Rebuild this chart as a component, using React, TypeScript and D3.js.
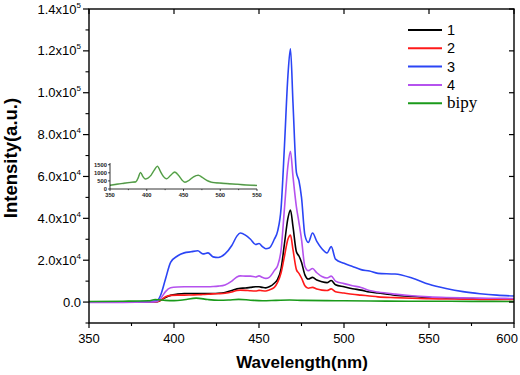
import React from "react";
import * as d3 from "d3";

const wavelengths = [350, 370, 385, 390, 392, 395, 398, 402, 406, 410, 414, 417, 420, 423, 426, 430, 434, 437, 439, 442, 445, 448, 450, 452, 454, 456, 459, 461, 463, 465, 467, 468.5, 470, 472, 473.5, 475, 477, 479, 481.5, 484, 487, 490, 492.5, 495, 500, 505, 510, 515, 520, 530, 540, 550, 560, 570, 580, 590, 600];

const series1 = [0, 0, 0, 200, 800, 2200, 3200, 3800, 4100, 4100, 4100, 4100, 4100, 4100, 4200, 4600, 5500, 6300, 6600, 6700, 7000, 7300, 7300, 7000, 6800, 7300, 9000, 11000, 16000, 28000, 40000, 44000, 36000, 24000, 22000, 19000, 13000, 11000, 11800, 10500, 9700, 9300, 10300, 8300, 7300, 6400, 5700, 4800, 4300, 3300, 2700, 2200, 1900, 1700, 1600, 1500, 1400];
const series2 = [0, 0, 0, 200, 700, 2500, 3200, 3300, 3300, 3400, 3500, 3600, 3700, 3900, 4000, 4200, 4800, 5500, 5700, 5600, 5400, 5300, 5600, 5400, 5300, 5800, 7000, 9500, 14000, 22000, 30000, 32000, 25000, 15500, 13700, 11500, 7800, 6600, 7000, 6200, 5700, 5500, 6300, 4900, 4300, 3700, 3300, 2900, 2500, 2100, 1800, 1600, 1500, 1400, 1300, 1250, 1200];
const series3 = [0, 0, 200, 600, 3000, 11000, 19000, 22000, 23500, 24000, 24500, 23000, 23500, 21600, 21300, 23000, 27000, 31500, 33000, 32000, 30000, 27500, 28000, 26500, 25500, 25800, 30000, 34000, 45000, 75000, 108000, 121000, 95000, 62000, 58000, 50000, 32000, 28500, 33000, 29000, 25500, 23500, 26500, 20500, 18500, 17000, 15500, 14800, 13700, 13400, 11500, 8500, 6500, 5000, 4000, 3300, 2900];
const series4 = [-200, -200, 0, 300, 1500, 5000, 6800, 7200, 7300, 7300, 7300, 7300, 7300, 7400, 7600, 8200, 10000, 12000, 12500, 12400, 12400, 12000, 12500, 11800, 11300, 11800, 15000, 17500, 25000, 45000, 65000, 72000, 60000, 45500, 38000, 30000, 17000, 15000, 16000, 14000, 12200, 11500, 12400, 10000, 8800, 7800, 7000, 5500, 4800, 3800, 3000, 2500, 2200, 2000, 1900, 1800, 1700];

const bipyWl = [350, 370, 385, 389, 395, 400, 406, 413, 420, 426, 432, 438, 445, 452, 460, 468, 476, 490, 500, 525, 550, 575, 600];
const bipyVal = [300, 400, 600, 1200, 800, 700, 1100, 1900, 1200, 900, 1000, 1300, 900, 600, 800, 1000, 800, 700, 600, 450, 400, 350, 300];

const insetWl = [350, 360, 370, 380, 385, 388, 391.5, 395, 398, 405, 410, 414.5, 419, 423, 427, 432, 438, 444, 448, 452, 458, 464, 470, 476, 482, 488, 495, 501, 510, 524, 535, 550];
const insetVal = [230, 300, 360, 420, 440, 650, 1020, 750, 620, 800, 1150, 1400, 1050, 750, 630, 820, 1040, 800, 550, 420, 550, 760, 850, 700, 520, 420, 380, 360, 330, 290, 250, 220];

const seriesNames = ["1", "2", "3", "4", "bipy"];
const seriesColors = ["#000000", "#ff1a1a", "#2b45f5", "#b552ee", "#1a9a1a"];

const xTicks = [350, 400, 450, 500, 550, 600];
const xMinor = [375, 425, 475, 525, 575];
const yTicks = [0, 20000, 40000, 60000, 80000, 100000, 120000, 140000];
const yTickMantissa = ["0.0", "2.0x10", "4.0x10", "6.0x10", "8.0x10", "1.0x10", "1.2x10", "1.4x10"];
const yTickExp = ["", "4", "4", "4", "4", "5", "5", "5"];
const yMinor = [-10000, 10000, 30000, 50000, 70000, 90000, 110000, 130000];

const insetXTicks = [350, 400, 450, 500, 550];
const insetXMinor = [375, 425, 475, 525];
const insetYTicks = [0, 500, 1000, 1500];

const SANS = "'Liberation Sans', Arial, Helvetica, sans-serif";
const SERIF = "'Liberation Serif', 'Times New Roman', serif";

export default function App() {
  const W = 520, H = 375;
  const L = 89, R = 514, T = 9, B = 323;
  const x = d3.scaleLinear().domain([350, 600]).range([L, R]);
  const y = d3.scaleLinear().domain([-10000, 140000]).range([B, T]);

  const line = d3
    .line<[number, number]>()
    .x((d) => x(d[0]))
    .y((d) => y(d[1]))
    .curve(d3.curveMonotoneX);

  const mainSeries = [series1, series2, series3, series4];
  const paths = mainSeries.map((s) => line(wavelengths.map((w, i) => [w, s[i]] as [number, number])) || "");
  const bipyPath = line(bipyWl.map((w, i) => [w, bipyVal[i]] as [number, number])) || "";

  // inset
  const iL = 110, iR = 257, iB = 189, iT = 163;
  const ix = d3.scaleLinear().domain([350, 550]).range([iL, iR]);
  const iy = d3.scaleLinear().domain([0, 1500]).range([iB, 164.7]);
  const iline = d3
    .line<[number, number]>()
    .x((d) => ix(d[0]))
    .y((d) => iy(d[1]))
    .curve(d3.curveMonotoneX);
  const insetPath = iline(insetWl.map((w, i) => [w, insetVal[i]] as [number, number])) || "";

  const legendX1 = 408, legendX2 = 442, legendY0 = 30, legendDy = 18.3;

  return (
    <svg width={W} height={H} style={{ display: "block", position: "absolute", left: 0, top: 0 }}>
      <rect x={0} y={0} width={W} height={H} fill="#ffffff" />
      {/* data lines */}
      <g fill="none" strokeWidth={1.6} strokeLinejoin="round">
        <path d={paths[0]} stroke={seriesColors[0]} />
        <path d={paths[1]} stroke={seriesColors[1]} />
        <path d={paths[2]} stroke={seriesColors[2]} />
        <path d={paths[3]} stroke={seriesColors[3]} />
        <path d={bipyPath} stroke={seriesColors[4]} />
      </g>

      {/* frame */}
      <rect x={L} y={T} width={R - L} height={B - T} fill="none" stroke="#000" strokeWidth={1.4} />

      {/* bottom axis ticks */}
      {xTicks.map((t, i) => (
        <g key={"xt" + t}>
          <line x1={x(t)} x2={x(t)} y1={B} y2={B + 5} stroke="#000" strokeWidth={1.2} />
          <line x1={x(t)} x2={x(t)} y1={T} y2={T + 5} stroke="#000" strokeWidth={1.2} />
          <text
            x={i === xTicks.length - 1 ? 518 : x(t)}
            y={343}
            fontSize={13}
            fontFamily={SANS}
            textAnchor={i === xTicks.length - 1 ? "end" : "middle"}
            fill="#000"
          >
            {t}
          </text>
        </g>
      ))}
      {xMinor.map((t) => (
        <line key={"xm" + t} x1={x(t)} x2={x(t)} y1={B} y2={B + 3} stroke="#000" strokeWidth={1.1} />
      ))}

      {/* left axis ticks */}
      {yTicks.map((t, i) => (
        <g key={"yt" + t}>
          <line x1={L - 6} x2={L} y1={y(t)} y2={y(t)} stroke="#000" strokeWidth={1.2} />
          <line x1={R - 5} x2={R} y1={y(t)} y2={y(t)} stroke="#000" strokeWidth={1.2} />
          <text x={81} y={y(t) + 4.6} fontSize={13} fontFamily={SANS} textAnchor="end" fill="#000">
            <tspan>{yTickMantissa[i]}</tspan>
            {yTickExp[i] && (
              <tspan dy={-6} fontSize={8}>
                {yTickExp[i]}
              </tspan>
            )}
          </text>
        </g>
      ))}
      {yMinor.map((t) => (
        <line key={"ym" + t} x1={L - 3.5} x2={L} y1={y(t)} y2={y(t)} stroke="#000" strokeWidth={1.1} />
      ))}

      {/* axis titles */}
      <text x={302} y={368} fontSize={17} fontWeight="bold" fontFamily={SANS} textAnchor="middle" fill="#000">
        Wavelength(nm)
      </text>
      <text
        transform={`translate(16.5,158) rotate(-90)`}
        fontSize={18.5}
        fontWeight="bold"
        fontFamily={SANS}
        textAnchor="middle"
        fill="#000"
      >
        Intensity(a.u.)
      </text>

      {/* legend */}
      {seriesNames.map((n, i) => (
        <g key={"lg" + n}>
          <line
            x1={legendX1}
            x2={legendX2}
            y1={legendY0 + i * legendDy}
            y2={legendY0 + i * legendDy}
            stroke={seriesColors[i]}
            strokeWidth={2}
          />
          <text
            x={447}
            y={legendY0 + i * legendDy + 5}
            fontSize={n === "bipy" ? 17 : 14.5}
            fontFamily={n === "bipy" ? SERIF : SANS}
            fill="#000"
          >
            {n}
          </text>
        </g>
      ))}

      {/* inset */}
      <g>
        <path d={insetPath} fill="none" stroke="#7fcf6e" strokeWidth={1.6} />
        <path d={insetPath} fill="none" stroke="#2f5a2f" strokeWidth={0.6} />
        <line x1={iL} x2={iR} y1={iB} y2={iB} stroke="#000" strokeWidth={0.8} />
        <line x1={iL} x2={iL} y1={iB} y2={iT} stroke="#000" strokeWidth={0.8} />
        {insetXTicks.map((t) => (
          <g key={"ixt" + t}>
            <line x1={ix(t)} x2={ix(t)} y1={iB} y2={iB + 2} stroke="#000" strokeWidth={0.7} />
            <text x={ix(t)} y={196.5} fontSize={5.8} fontWeight="bold" fontFamily={SANS} textAnchor="middle" fill="#222">
              {t}
            </text>
          </g>
        ))}
        {insetXMinor.map((t) => (
          <line key={"ixm" + t} x1={ix(t)} x2={ix(t)} y1={iB} y2={iB + 1.2} stroke="#000" strokeWidth={0.6} />
        ))}
        {insetYTicks.map((t) => (
          <g key={"iyt" + t}>
            <line x1={iL - 2} x2={iL} y1={iy(t)} y2={iy(t)} stroke="#000" strokeWidth={0.7} />
            <text x={iL - 3} y={iy(t) + 2} fontSize={5.8} fontWeight="bold" fontFamily={SANS} textAnchor="end" fill="#222">
              {t}
            </text>
          </g>
        ))}
      </g>
    </svg>
  );
}
